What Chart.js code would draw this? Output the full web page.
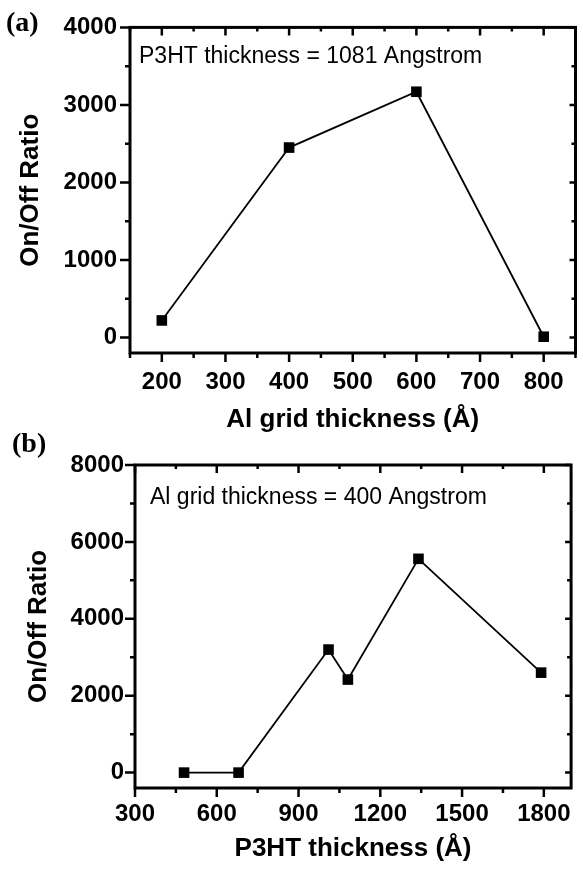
<!DOCTYPE html>
<html>
<head>
<meta charset="utf-8">
<script src="https://cdn.jsdelivr.net/npm/chart.js@4.4.0/dist/chart.umd.min.js"></script>
<style>
body { margin: 0; background: #fff; width: 583px; height: 869px; position: relative; overflow: hidden; }
canvas { position: absolute; left: 0; }
.tag { position: absolute; font: bold 28px "Liberation Serif", "Times New Roman", serif; color: #000; line-height: 1; }
</style>
</head>
<body>
<canvas id="chartA" width="583" height="435" style="top:0"></canvas>
<canvas id="chartB" width="583" height="434" style="top:435px"></canvas>
<div class="tag" style="left:6px;top:8px">(a)</div>
<div class="tag" style="left:12px;top:429px">(b)</div>
<script>
// panel (a): on/off ratio vs Al grid thickness (P3HT = 1081 A)
var alThick = [200, 400, 600, 800];
var ratioA = [220, 2450, 3170, 10];
var xTicksA = [200, 300, 400, 500, 600, 700, 800];
var xMinorA = [150, 250, 350, 450, 550, 650, 750, 850];
var yTicksA = [0, 1000, 2000, 3000, 4000];
var yMinorA = [500, 1500, 2500, 3500];

// panel (b): on/off ratio vs P3HT thickness (Al grid = 400 A)
var p3htThick = [480, 680, 1010, 1081, 1340, 1790];
var ratioB = [0, 0, 3200, 2420, 5560, 2600];
var xTicksB = [300, 600, 900, 1200, 1500, 1800];
var xMinorB = [450, 750, 1050, 1350, 1650];
var yTicksB = [0, 2000, 4000, 6000, 8000];
var yMinorB = [1000, 3000, 5000, 7000];

var labelFont = { family: '"Liberation Sans", Arial, sans-serif', size: 24, weight: 'bold' };
var titleFont = { family: '"Liberation Sans", Arial, sans-serif', size: 26, weight: 'bold' };

function plain(v) { return String(v); }

// frame, inward/outward ticks on all four sides, and the note text
var frameTicks = {
  id: 'frameTicks',
  afterDraw: function(chart, args, o) {
    var ctx = chart.ctx, a = chart.chartArea, x = chart.scales.x, y = chart.scales.y;
    ctx.save();
    ctx.strokeStyle = '#000';
    ctx.lineWidth = 2.5;
    ctx.beginPath();
    function xt(list, out, inn) {
      list.forEach(function(v) {
        var p = x.getPixelForValue(v);
        ctx.moveTo(p, a.bottom); ctx.lineTo(p, a.bottom + out);
        ctx.moveTo(p, a.top); ctx.lineTo(p, a.top + inn);
      });
    }
    function yt(list, out, inn) {
      list.forEach(function(v) {
        var p = y.getPixelForValue(v);
        ctx.moveTo(a.left, p); ctx.lineTo(a.left - out, p);
        ctx.moveTo(a.right, p); ctx.lineTo(a.right - inn, p);
      });
    }
    xt(o.xMajor, 9, 8);
    xt(o.xMinor, 5, 4);
    yt(o.yMajor, 10, 6);
    yt(o.yMinor, 5, 4);
    ctx.stroke();
    ctx.lineWidth = 3;
    ctx.strokeRect(a.left, a.top, a.right - a.left, a.bottom - a.top);
    ctx.fillStyle = '#000';
    ctx.font = '23px "Liberation Sans", Arial, sans-serif';
    ctx.textBaseline = 'middle';
    ctx.fillText(o.note, o.noteX, o.noteY);
    ctx.restore();
  }
};

function makeChart(id, xs, ys, c) {
  var pts = xs.map(function(v, i) { return { x: v, y: ys[i] }; });
  return new Chart(document.getElementById(id), {
    type: 'scatter',
    data: {
      datasets: [{
        data: pts,
        showLine: true,
        borderColor: '#000',
        borderWidth: 1.8,
        pointStyle: 'rect',
        pointRadius: 7.5,
        pointBackgroundColor: '#000',
        pointBorderWidth: 0,
        clip: false
      }]
    },
    options: {
      responsive: false,
      animation: false,
      layout: { padding: { left: 0, top: c.top, right: c.right, bottom: 0 } },
      plugins: {
        legend: { display: false },
        tooltip: { enabled: false },
        frameTicks: c.frame
      },
      scales: {
        x: {
          type: 'linear',
          min: c.xMin, max: c.xMax,
          afterBuildTicks: function(s) { s.ticks = c.xTicks.map(function(v) { return { value: v }; }); },
          afterFit: function(s) { s.height = c.xHeight; },
          grid: { display: false, drawTicks: false },
          border: { display: false },
          ticks: { color: '#000', font: labelFont, padding: c.xPad, maxRotation: 0, callback: plain },
          title: { display: true, text: c.xTitle, color: '#000', font: titleFont, padding: { top: 0, bottom: c.xTitlePad } }
        },
        y: {
          type: 'linear',
          min: c.yMin, max: c.yMax,
          afterBuildTicks: function(s) { s.ticks = c.yTicks.map(function(v) { return { value: v }; }); },
          afterFit: function(s) { s.width = c.yWidth; },
          grid: { display: false, drawTicks: false },
          border: { display: false },
          ticks: { color: '#000', font: labelFont, padding: c.yPad, callback: plain },
          title: { display: true, text: 'On/Off Ratio', color: '#000', font: titleFont, padding: { top: c.yTitlePad, bottom: 0 } }
        }
      }
    },
    plugins: [frameTicks]
  });
}

makeChart('chartA', alThick, ratioA, {
  top: 25, right: 4, xHeight: 82, yWidth: 130,
  xMin: 150, xMax: 850, yMin: -200, yMax: 4000,
  xTicks: xTicksA, yTicks: yTicksA,
  xPad: 15, yPad: 13, xTitlePad: 0, yTitlePad: 15,
  xTitle: 'Al grid thickness (\u00c5)',
  frame: { xMajor: xTicksA, xMinor: xMinorA, yMajor: yTicksA, yMinor: yMinorA,
           note: 'P3HT thickness = 1081 Angstrom', noteX: 139, noteY: 57 }
});

makeChart('chartB', p3htThick, ratioB, {
  top: 30, right: 3, xHeight: 81, yWidth: 135,
  xMin: 300, xMax: 1900, yMin: -400, yMax: 8000,
  xTicks: xTicksB, yTicks: yTicksB,
  xPad: 12, yPad: 11, xTitlePad: 5, yTitlePad: 23,
  xTitle: 'P3HT thickness (\u00c5)',
  frame: { xMajor: xTicksB, xMinor: xMinorB, yMajor: yTicksB, yMinor: yMinorB,
           note: 'Al grid thickness = 400 Angstrom', noteX: 150, noteY: 63 }
});
</script>
</body>
</html>
